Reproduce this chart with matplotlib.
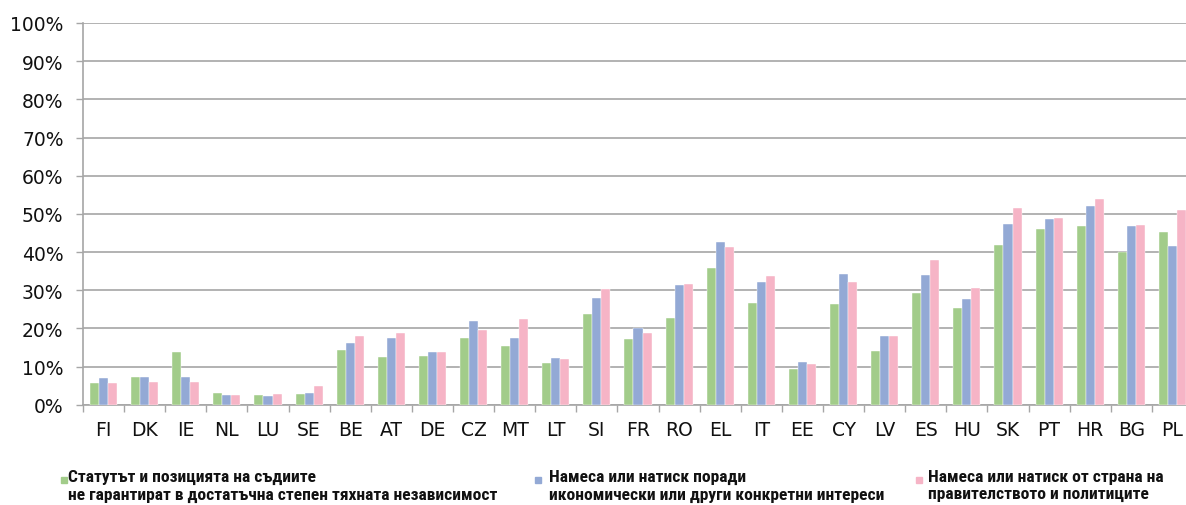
import matplotlib
matplotlib.use("Agg")
import matplotlib.pyplot as plt
from matplotlib import font_manager
import numpy as np

countries = ["FI", "DK", "IE", "NL", "LU", "SE", "BE", "AT", "DE", "CZ", "MT", "LT", "SI",
             "FR", "RO", "EL", "IT", "EE", "CY", "LV", "ES", "HU", "SK", "PT", "HR", "BG", "PL"]

status_judges = [5.7, 7.2, 13.7, 3.0, 2.5, 2.7, 14.3, 12.5, 12.8, 17.6, 15.3, 10.8, 23.8,
                 17.3, 22.7, 35.8, 26.6, 9.3, 26.3, 14.1, 29.3, 25.3, 41.9, 45.9, 46.7, 40.0, 45.2]
economic_pressure = [6.9, 7.2, 7.2, 2.5, 2.2, 3.0, 16.2, 17.4, 13.8, 21.8, 17.6, 12.2, 28.0,
                     20.1, 31.4, 42.6, 32.1, 11.1, 34.2, 17.9, 34.0, 27.7, 47.3, 48.6, 52.1, 46.7, 41.7]
government_pressure = [5.7, 5.9, 5.9, 2.5, 2.7, 4.8, 17.9, 18.9, 13.8, 19.5, 22.4, 12.0, 30.4,
                       18.9, 31.6, 41.4, 33.7, 10.7, 32.1, 17.9, 37.9, 30.7, 51.5, 48.8, 53.9, 47.0, 50.9]

legend_labels = [
    "Статутът и позицията на съдиите\nне гарантират в достатъчна степен тяхната независимост",
    "Намеса или натиск поради\nикономически или други конкретни интереси",
    "Намеса или натиск от страна на\nправителството и политиците",
]
colors = ["#a2cc8a", "#93a9d5", "#f6b4c6"]
ytick_values = np.arange(0, 101, 10)

# Pick a narrow face for the legend captions if one is installed
installed = {(f.name, f.stretch) for f in font_manager.fontManager.ttflist}
names = {n for n, _ in installed}
legend_props = dict(family="DejaVu Sans", fontweight="bold", fontsize=10.2)
for cand in ["Liberation Sans Narrow", "Roboto Condensed", "Open Sans Condensed",
             "Noto Sans Condensed", "DejaVu Sans Condensed"]:
    if cand in names:
        legend_props = dict(family=cand, fontweight="bold", fontsize=12.6)
        break
else:
    if any(n == "DejaVu Sans" and str(s) in ("condensed", "semi-condensed", "75", "87.5")
           for n, s in installed):
        legend_props = dict(family="DejaVu Sans", fontweight="bold", fontsize=11.5,
                            fontstretch="condensed")

W, H = 1186, 506
fig = plt.figure(figsize=(W / 100, H / 100), dpi=100)
ax = fig.add_axes([83 / W, (H - 405.7) / H, (1193 - 83) / W, (405.7 - 24) / H])

x = np.arange(len(countries))
bw = 0.22
series = [status_judges, economic_pressure, government_pressure]
for i, (vals, c) in enumerate(zip(series, colors)):
    ax.bar(x + (i - 1) * bw, np.array(vals) / 100, width=bw, color=c,
           edgecolor="white", linewidth=0.3, zorder=3)

grid_c = "#a6a6a6"
ax.set_xlim(-0.5, len(countries) - 0.5)
ax.set_ylim(0, 1)
ax.set_yticks(ytick_values / 100)
ax.set_yticklabels([f"{v}%" for v in ytick_values])
ax.yaxis.grid(True, color=grid_c, linewidth=1.2, zorder=0)
ax.set_axisbelow(True)

ax.set_xticks(np.arange(-0.5, len(countries), 1.0))
ax.set_xticklabels([])
ax.set_xticks(x, minor=True)
ax.set_xticklabels(countries, minor=True)
ax.tick_params(axis="x", which="major", length=5, width=1, color=grid_c, direction="out")
ax.tick_params(axis="x", which="minor", length=0, pad=11, labelsize=13.5, labelcolor="#111111")
ax.tick_params(axis="y", length=5, width=1, color=grid_c, pad=9, labelsize=13.5,
               labelcolor="#111111")

for s in ["top", "right"]:
    ax.spines[s].set_visible(False)
for s in ["left", "bottom"]:
    ax.spines[s].set_color(grid_c)
    ax.spines[s].set_linewidth(1.2)

# Legend drawn as coloured squares with two-line captions
legend_pos = [(61, 68), (535, 549), (916, 928)]
for (sq_x, tx), c, lab in zip(legend_pos, colors, legend_labels):
    fig.patches.append(plt.Rectangle((sq_x / W, (H - 484) / H), 6 / W, 6 / H,
                                     transform=fig.transFigure, color=c, figure=fig))
    fig.text(tx / W, (H - 470) / H, lab, ha="left", va="top",
             color="#111111", linespacing=1.2, **legend_props)

fig.savefig("out.png", dpi=100)
